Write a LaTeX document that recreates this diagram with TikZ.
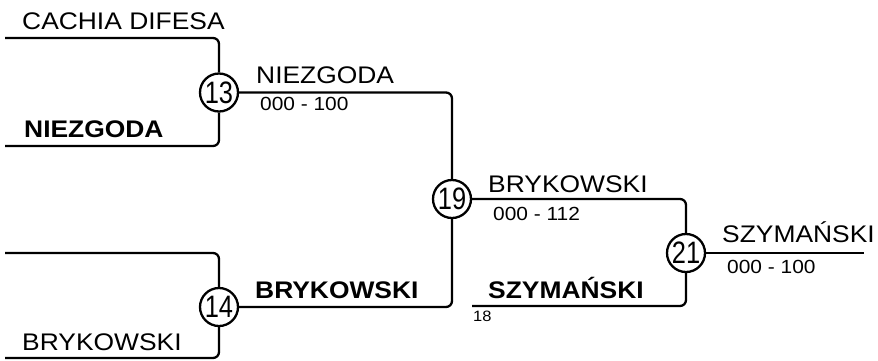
\documentclass[tikz,border=0pt]{standalone}
\usepackage{fontspec}
\setmainfont{Liberation Sans}[FakeStretch=1.1]
\newfontfamily\numfont{Liberation Sans}[FakeStretch=0.82]
\usetikzlibrary{positioning}

\begin{document}
\begin{tikzpicture}[x=1pt, y=-1pt,
	match/.style={circle, draw, line width=2.3pt, fill=white, inner sep=0pt, minimum size=38pt, font=\numfont\fontsize{31}{31}\selectfont},
	player/.style={anchor=base west, inner sep=0pt, font=\fontsize{24}{24}\selectfont},
	winner/.style={player, font=\bfseries\fontsize{24}{24}\selectfont},
	score/.style={anchor=base west, inner sep=0pt, font=\fontsize{19}{19}\selectfont},
	seed/.style={anchor=base west, inner sep=0pt, font=\fontsize{15}{15}\selectfont},
	link/.style={line width=2.3pt, rounded corners=6pt}]
	\useasboundingbox (0,0) rectangle (878,360);

	% Matches
	\node[match] (m13) at (219,92.5) {13};
	\node[match] (m14) at (219,307) {14};
	\node[match] (m19) at (452,199) {19};
	\node[match] (m21) at (686,253) {21};

	% Free line ends
	\coordinate (a1) at (5,38);
	\coordinate (a2) at (5,146);
	\coordinate (b1) at (5,253);
	\coordinate (b2) at (5,358);
	\coordinate (c1) at (472,306);
	\coordinate (d1) at (864,253);

	% First round
	\draw[link] (a1) -| (m13);
	\draw[link] (a2) -| (m13);
	\draw[link] (b1) -| (m14);
	\draw[link] (b2) -| (m14);
	\node[player] (p1) at (22,29) {CACHIA DIFESA};
	\node[winner] (p2) at (24,137) {NIEZGODA};
	\node[player] (p3) at (22,350) {BRYKOWSKI};

	% Second round
	\draw[link] (m13) -| (m19);
	\draw[link] (m14) -| (m19);
	\draw[link] (c1) -| (m21);
	\node[player] (w13) at (256,83) {NIEZGODA};
	\node[score] (s13) at (260,110) {000 - 100};
	\node[winner] (w14) at (255,298) {BRYKOWSKI};
	\node[winner] (p4) at (488,298) {SZYMAŃSKI};
	\node[seed] (n18) at (473,321) {18};

	% Final
	\draw[link] (m19) -| (m21);
	\draw[link] (m21) -- (d1);
	\node[player] (w19) at (488,192) {BRYKOWSKI};
	\node[score] (s19) at (493,220) {000 - 112};
	\node[player] (w21) at (722,242) {SZYMAŃSKI};
	\node[score] (s21) at (727,273) {000 - 100};
\end{tikzpicture}
\end{document}
